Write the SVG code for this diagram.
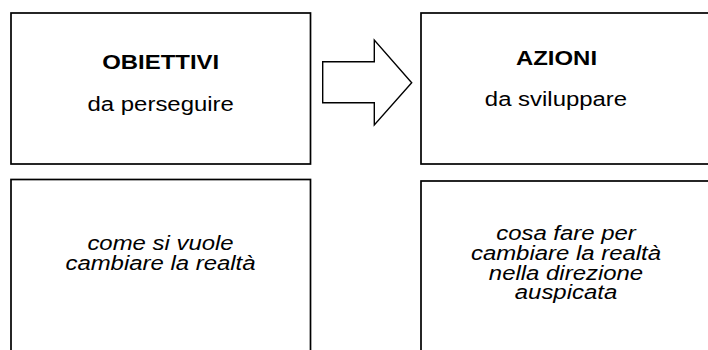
<svg xmlns="http://www.w3.org/2000/svg" width="708" height="350" viewBox="0 0 708 350">
<style>
.box{fill:#ffffff;stroke:#000000;stroke-width:1.7}
.arrow{fill:#ffffff;stroke:#000000;stroke-width:1.4;stroke-linejoin:miter}
.t{font-family:"Liberation Sans",Arial,sans-serif;font-size:21px;fill:#000000;text-anchor:middle}
.b{font-weight:bold}
.i{font-style:italic}
</style>
<rect width="708" height="350" fill="#ffffff"/>
<g id="obiettivi">
<rect class="box" x="11" y="13" width="299.5" height="151"/>
<text class="t b" transform="translate(160.7,69) scale(1.14,1)">OBIETTIVI</text>
<text class="t" transform="translate(160.7,111) scale(1.14,1)">da perseguire</text>
</g>
<g id="azioni">
<rect class="box" x="421" y="13" width="300" height="151"/>
<text class="t b" transform="translate(556.5,65) scale(1.14,1)">AZIONI</text>
<text class="t" transform="translate(556,106) scale(1.14,1)">da sviluppare</text>
</g>
<g id="obiettivi-desc">
<rect class="box" x="11" y="179.5" width="299.5" height="190"/>
<text class="t i" transform="translate(160.5,250) scale(1.14,1)">come si vuole</text>
<text class="t i" transform="translate(160.5,270) scale(1.14,1)">cambiare la realtà</text>
</g>
<g id="azioni-desc">
<rect class="box" x="421" y="181" width="300" height="190"/>
<text class="t i" transform="translate(566,240) scale(1.14,1)">cosa fare per</text>
<text class="t i" transform="translate(566,260) scale(1.14,1)">cambiare la realtà</text>
<text class="t i" transform="translate(566,280) scale(1.14,1)">nella direzione</text>
<text class="t i" transform="translate(566,299) scale(1.14,1)">auspicata</text>
</g>
<g id="connectors">
<polygon class="arrow" points="322.7,61.7 374.3,61.7 374.3,40 411.7,82.7 374.3,125 374.3,102.7 322.7,102.7"/>
</g>
</svg>
